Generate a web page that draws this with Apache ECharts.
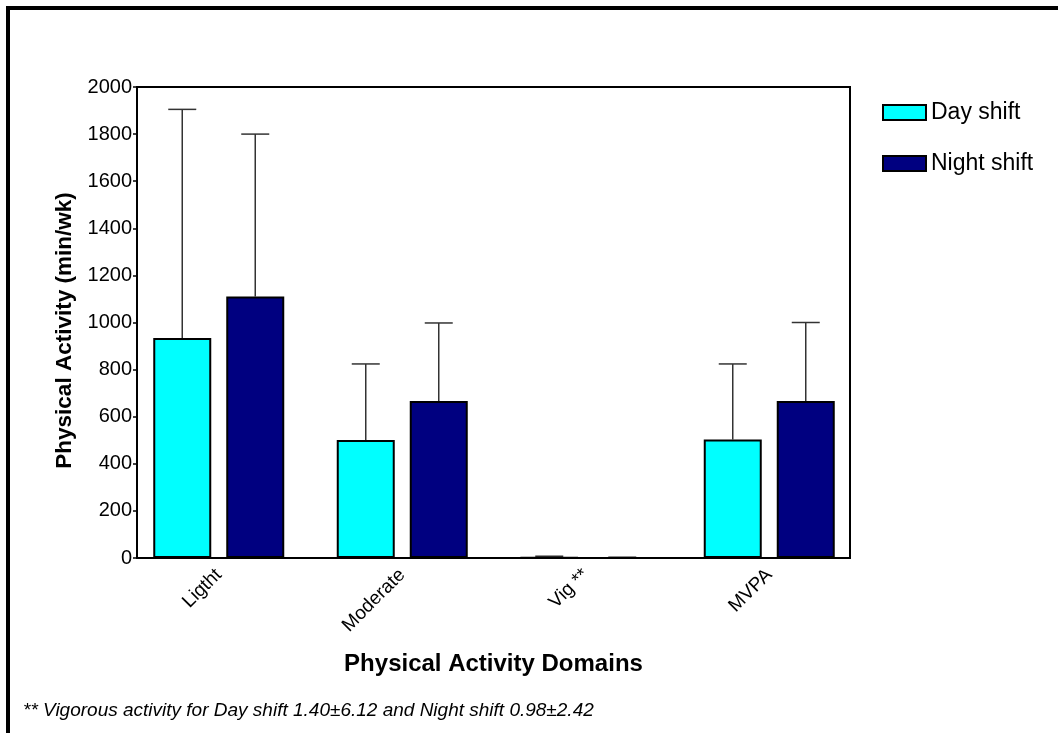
<!DOCTYPE html>
<html>
<head>
<meta charset="utf-8">
<script src="https://cdn.jsdelivr.net/npm/echarts@6/dist/echarts.min.js"></script>
<style>
html,body{margin:0;padding:0;background:#fff;}
#chart{width:1058px;height:733px;}
</style>
</head>
<body>
<div id="chart"></div>
<script>
const categories = ['Ligtht', 'Moderate', 'Vig **', 'MVPA'];
const dayMean = [934, 501, 1.40, 503];
const daySD = [971, 323, 6.12, 321];
const nightMean = [1110, 667, 0.98, 667];
const nightSD = [690, 331, 2.42, 333];
const yTicks = [0, 200, 400, 600, 800, 1000, 1200, 1400, 1600, 1800, 2000];
const seriesNames = ['Day shift', 'Night shift'];
const footnote = '** Vigorous activity for Day shift 1.40\u00b16.12 and Night shift 0.98\u00b12.42';

const FONT = 'Arial, "Liberation Sans", sans-serif';
const BAR_W = 58, BAR_GAP = 15;

function errData(mean, sd) {
  return mean.map((m, i) => [i, m, sd[i]]);
}
function errRender(offset) {
  return function (params, api) {
    const base = api.coord([api.value(0), api.value(1)]);
    const top = api.coord([api.value(0), api.value(1) + api.value(2)]);
    const x = base[0] + offset;
    const cap = 14;
    return {
      type: 'group',
      children: [
        { type: 'line', shape: { x1: x, y1: base[1], x2: x, y2: top[1] },
          style: { stroke: '#333', lineWidth: 1.5 } },
        { type: 'line', shape: { x1: x - cap, y1: top[1], x2: x + cap, y2: top[1] },
          style: { stroke: '#333', lineWidth: 1.5 } }
      ]
    };
  };
}

const chart = echarts.init(document.getElementById('chart'), null, { renderer: 'canvas' });
const off = (BAR_W + BAR_GAP) / 2;
chart.setOption({
  animation: false,
  backgroundColor: '#fff',
  textStyle: { fontFamily: FONT },
  grid: [
    { left: 127, top: 87, width: 734, height: 471, containLabel: false },
    { left: 137, top: 87, width: 713, height: 471, show: true, borderColor: '#000', borderWidth: 2, backgroundColor: 'transparent', z: 5 }
  ],
  xAxis: [
    { type: 'category', gridIndex: 0, data: categories,
      axisLine: { show: false }, axisTick: { show: false },
      axisLabel: { rotate: 45, color: '#000', fontSize: 19, fontFamily: FONT, margin: 14 } },
    { type: 'value', gridIndex: 1, min: 0, max: 1,
      axisLine: { show: true, lineStyle: { color: '#000', width: 2 } },
      axisTick: { show: false }, axisLabel: { show: false }, splitLine: { show: false },
      name: 'Physical Activity Domains', nameLocation: 'middle', nameGap: 94,
      nameTextStyle: { fontSize: 24, fontWeight: 'bold', color: '#000', fontFamily: FONT } }
  ],
  yAxis: [
    { type: 'value', gridIndex: 0, min: 0, max: 2000, interval: 200, show: false, splitLine: { show: false } },
    { type: 'value', gridIndex: 1, min: 0, max: 2000, interval: 200,
      axisLine: { show: true, lineStyle: { color: '#000', width: 2 } },
      axisTick: { show: true, length: 4, inside: false, lineStyle: { color: '#000', width: 1.5 } },
      axisLabel: { color: '#000', fontSize: 20, fontFamily: FONT, margin: 5,
        formatter: v => yTicks.includes(v) ? String(v) : '' },
      splitLine: { show: false },
      name: 'Physical Activity (min/wk)', nameLocation: 'middle', nameGap: 60, nameRotate: 90,
      nameTextStyle: { fontSize: 22.5, fontWeight: 'bold', color: '#000', fontFamily: FONT,
        padding: [0, 16, 0, 0] } }
  ],
  legend: {
    orient: 'vertical', left: 877, top: 96, itemWidth: 43, itemHeight: 15, itemGap: 28,
    icon: 'rect',
    textStyle: { fontSize: 23, color: '#000', fontFamily: FONT },
    data: seriesNames
  },
  series: [
    { name: seriesNames[0], type: 'bar', xAxisIndex: 0, yAxisIndex: 0, data: dayMean,
      barWidth: BAR_W, barGap: (BAR_GAP / BAR_W * 100) + '%',
      itemStyle: { color: '#00FFFF', borderColor: '#000', borderWidth: 2 } },
    { name: seriesNames[1], type: 'bar', xAxisIndex: 0, yAxisIndex: 0, data: nightMean,
      barWidth: BAR_W,
      itemStyle: { color: '#000080', borderColor: '#000', borderWidth: 2 } },
    { type: 'custom', xAxisIndex: 0, yAxisIndex: 0, data: errData(dayMean, daySD),
      renderItem: errRender(-off), z: 1, silent: true },
    { type: 'custom', xAxisIndex: 0, yAxisIndex: 0, data: errData(nightMean, nightSD),
      renderItem: errRender(off), z: 1, silent: true }
  ],
  graphic: [
    { type: 'line', shape: { x1: 6, y1: 8, x2: 1058, y2: 8 }, style: { stroke: '#000', lineWidth: 4 } },
    { type: 'line', shape: { x1: 8, y1: 6, x2: 8, y2: 733 }, style: { stroke: '#000', lineWidth: 4 } },
    { type: 'text', left: 23, top: 701,
      style: { text: footnote, font: 'italic 19px ' + FONT, fill: '#000' } }
  ]
});
</script>
</body>
</html>
